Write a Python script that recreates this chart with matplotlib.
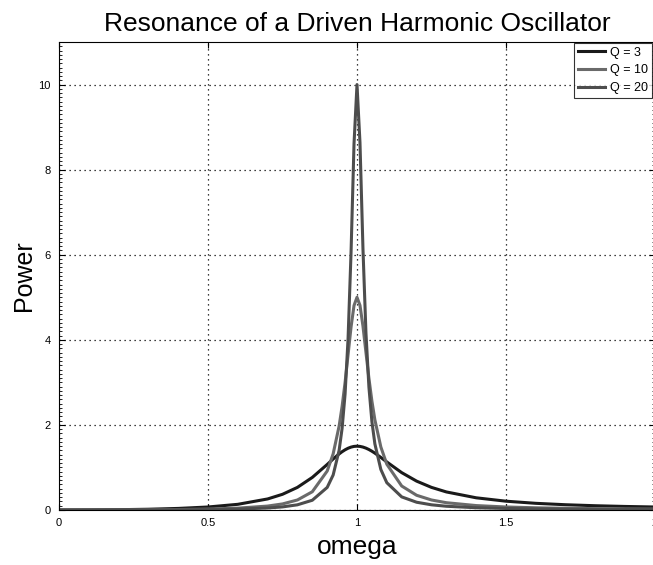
import matplotlib
matplotlib.use("Agg")
import matplotlib.pyplot as plt
from matplotlib.ticker import MultipleLocator

plt.rcParams['font.family'] = ['Liberation Sans', 'DejaVu Sans']

omega = [0.0, 0.1, 0.2, 0.3, 0.4, 0.5, 0.6, 0.7, 0.75, 0.8, 0.85, 0.9, 0.92, 0.94,
         0.95, 0.96, 0.97, 0.98, 0.99, 1.0, 1.01, 1.02, 1.03, 1.04, 1.05, 1.06,
         1.08, 1.1, 1.15, 1.2, 1.25, 1.3, 1.4, 1.5, 1.6, 1.7, 1.8, 1.9, 2.0]

power_q3 = [0.0, 0.0017, 0.0072, 0.0179, 0.0369, 0.0706, 0.1335, 0.2596, 0.3692,
            0.5314, 0.7656, 1.0706, 1.1991, 1.3181, 1.3701, 1.4151, 1.4515, 1.4783,
            1.4946, 1.5, 1.4947, 1.4791, 1.4542, 1.4213, 1.3815, 1.3365, 1.2359,
            1.1295, 0.8783, 0.6787, 0.5314, 0.4243, 0.2867, 0.2069, 0.1570, 0.1237,
            0.1004, 0.0834, 0.0706]

power_q10 = [0.0, 0.0005, 0.0022, 0.0054, 0.0113, 0.0221, 0.0436, 0.0925, 0.1427,
             0.2353, 0.4289, 0.9163, 1.3202, 1.9736, 2.4351, 2.9995, 3.6464, 4.2982,
             4.8058, 5.0, 4.8095, 4.3220, 3.7048, 3.0948, 2.5602, 2.1189, 1.4820,
             1.0765, 0.5641, 0.3462, 0.2353, 0.1714, 0.1041, 0.0710, 0.0520, 0.0401,
             0.0321, 0.0264, 0.0221]

power_q20 = [0.0, 0.0003, 0.0011, 0.0027, 0.0057, 0.0111, 0.0219, 0.0469, 0.0729,
             0.1220, 0.2292, 0.5311, 0.8231, 1.4018, 1.9182, 2.7265, 4.0244, 6.0491,
             8.6087, 10.0, 8.6325, 6.1443, 4.1695, 2.8881, 2.0782, 1.5531, 0.9528,
             0.6419, 0.3081, 0.1826, 0.1220, 0.0880, 0.0529, 0.0359, 0.0262, 0.0202,
             0.0161, 0.0132, 0.0111]

labels = ['Q = 3', 'Q = 10', 'Q = 20']
colors = ['#1a1a1a', '#6a6a6a', '#4d4d4d']

fig = plt.figure(figsize=(6.53, 5.65), dpi=100)
ax = fig.add_axes([59/653, 1-510/565, (655-59)/653, (510-42)/565])

for y, lab, c in zip([power_q3, power_q10, power_q20], labels, colors):
    ax.plot(omega, y, color=c, lw=2.2, label=lab)

ax.set_xlim(0, 2)
ax.set_ylim(0, 11)
ax.yaxis.set_major_locator(MultipleLocator(2))
ax.yaxis.set_minor_locator(MultipleLocator(0.1))
ax.set_xticks([0, 0.5, 1, 1.5, 2])
ax.set_xticklabels(['0', '0.5', '1', '1.5', '2'])
ax.tick_params(which='both', direction='in', top=True, right=True, labelsize=8,
               color='black')
ax.tick_params(which='major', length=4, pad=6)
ax.tick_params(which='minor', length=2)
ax.grid(True, which='major', linestyle=(0, (1, 3)), color='black', lw=0.9)
for s in ax.spines.values():
    s.set_linewidth(0.8)

ax.set_title('Resonance of a Driven Harmonic Oscillator', fontsize=19, pad=8)
ax.set_xlabel('omega', fontsize=19, labelpad=5)
ax.set_ylabel('Power', fontsize=18, labelpad=2)

leg = ax.legend(loc='upper right', fontsize=9, frameon=True, fancybox=False,
                edgecolor='black', borderpad=0.3, labelspacing=0.45,
                handlelength=2.2, handletextpad=0.4, borderaxespad=0,
                bbox_to_anchor=(652/653, 1-43/565), bbox_transform=fig.transFigure)
leg.get_frame().set_linewidth(0.8)

fig.savefig('out.png', dpi=100)
